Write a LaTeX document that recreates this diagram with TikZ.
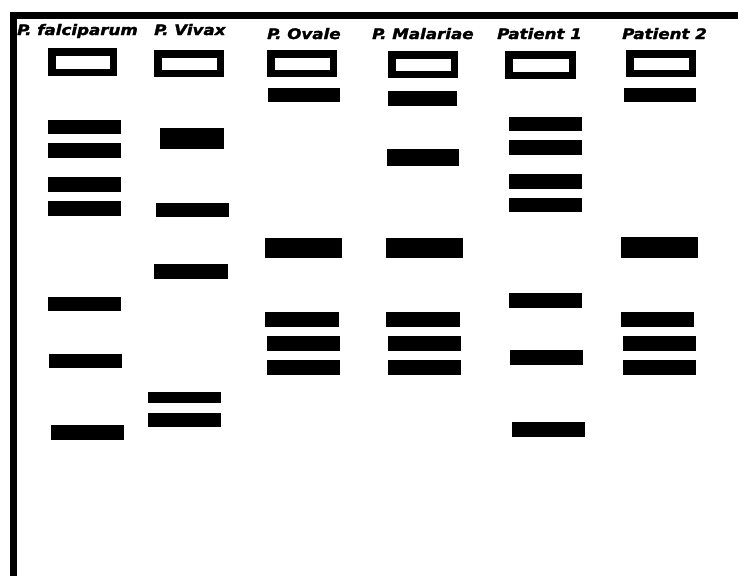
\documentclass[tikz,border=0pt]{standalone}
\usepackage{fontspec}
\newfontfamily\labfont{DejaVu Sans}[BoldItalicFeatures={FakeStretch=1.15,FakeBold=2}]
\tikzset{
  band/.style={fill=black},
  well/.style={draw=black, line width=7.5pt, fill=white},
  lab/.style={anchor=base west, inner sep=0pt, font=\labfont\bfseries\itshape\fontsize{14.5}{16}\selectfont},
  frame/.style={fill=black}
}
\begin{document}
\begin{tikzpicture}[x=1pt,y=-1pt]
\useasboundingbox[fill=white] (0,0) rectangle (738,576);
% frame
\path[frame] (10,12) rectangle (738,19);
\path[frame] (10,12) rectangle (17,576);
% labels
\node[lab] (l1) at (17,35) {P. falciparum};
\node[lab] (l2) at (154,35) {P. Vivax};
\node[lab] (l3) at (267,39) {P. Ovale};
\node[lab] (l4) at (372,39) {P. Malariae};
\node[lab] (l5) at (497,39) {Patient 1};
\node[lab] (l6) at (622,39) {Patient 2};
% wells
\path[well] (51.75,51.75) rectangle (113.25,72.25);
\path[well] (157.75,53.75) rectangle (220.25,73.25);
\path[well] (270.75,53.75) rectangle (333.25,73.25);
\path[well] (391.75,54.75) rectangle (454.25,74.25);
\path[well] (508.75,54.75) rectangle (572.25,75.25);
\path[well] (629.75,53.75) rectangle (692.25,73.25);
% lane 1
\path[band] (48,120) rectangle (121,134);
\path[band] (48,143) rectangle (121,158);
\path[band] (48,177) rectangle (121,192);
\path[band] (48,201) rectangle (121,216);
\path[band] (48,297) rectangle (121,311);
\path[band] (49,354) rectangle (122,368);
\path[band] (51,425) rectangle (124,440);
% lane 2
\path[band] (160,128) rectangle (224,149);
\path[band] (156,203) rectangle (229,217);
\path[band] (154,264) rectangle (228,279);
\path[band] (148,392) rectangle (221,403);
\path[band] (148,413) rectangle (221,427);
% lane 3
\path[band] (268,88) rectangle (340,102);
\path[band] (265,238) rectangle (342,258);
\path[band] (265,312) rectangle (339,327);
\path[band] (267,336) rectangle (340,351);
\path[band] (267,360) rectangle (340,375);
% lane 4
\path[band] (388,91) rectangle (457,106);
\path[band] (387,149) rectangle (459,166);
\path[band] (386,238) rectangle (463,258);
\path[band] (386,312) rectangle (460,327);
\path[band] (388,336) rectangle (461,351);
\path[band] (388,360) rectangle (461,375);
% lane 5
\path[band] (509,117) rectangle (582,131);
\path[band] (509,140) rectangle (582,155);
\path[band] (509,174) rectangle (582,189);
\path[band] (509,198) rectangle (582,212);
\path[band] (509,293) rectangle (582,308);
\path[band] (510,350) rectangle (583,365);
\path[band] (512,422) rectangle (585,437);
% lane 6
\path[band] (624,88) rectangle (696,102);
\path[band] (621,237) rectangle (698,258);
\path[band] (621,312) rectangle (694,327);
\path[band] (623,336) rectangle (696,351);
\path[band] (623,360) rectangle (696,375);
\end{tikzpicture}
\end{document}
